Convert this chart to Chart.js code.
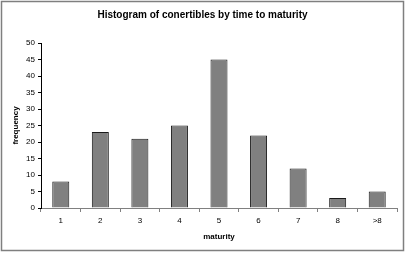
<!DOCTYPE html>
<html><head><meta charset="utf-8">
<script src="https://cdn.jsdelivr.net/npm/chart.js@4"></script>
<style>html,body{margin:0;padding:0;background:#fff}#wrap{width:409px;height:254px}</style>
</head><body><div id="wrap"><canvas id="c" width="409" height="254"></canvas></div>
<script>
const categories = ["1","2","3","4","5","6","7","8",">8"];
const frequency = [8, 23, 21, 25, 45, 22, 12, 3, 5];
const chartTitle = "Histogram of conertibles by time to maturity";
const xTitle = "maturity";
const yTitle = "frequency";

const borderPlugin = {
  id: 'outerBorder',
  beforeDraw(chart) {
    const ctx = chart.ctx;
    ctx.save();
    ctx.fillStyle = '#fff';
    ctx.fillRect(0, 0, chart.width, chart.height);
    ctx.strokeStyle = '#7f7f7f';
    ctx.lineWidth = 1.5;
    ctx.strokeRect(1.5, 1.5, 402, 249);
    ctx.restore();
  }
};

new Chart(document.getElementById('c'), {
  type: 'bar',
  data: {
    labels: categories,
    datasets: [{
      data: frequency,
      backgroundColor: '#808080',
      borderColor: '#1a1a1a',
      borderWidth: 1,
      barPercentage: 0.43,
      categoryPercentage: 1.0
    }]
  },
  options: {
    responsive: false,
    animation: false,
    devicePixelRatio: 1,
    layout: { padding: { left: 8, right: 12, top: 0, bottom: 4 } },
    plugins: {
      legend: { display: false },
      tooltip: { enabled: false },
      title: {
        display: true,
        text: chartTitle,
        color: '#000',
        font: { family: 'Liberation Sans, Arial, sans-serif', size: 10, weight: 'bold' },
        padding: { top: 9, bottom: 22 }
      }
    },
    scales: {
      x: {
        grid: { display: true, drawOnChartArea: false, drawTicks: true, tickLength: 4, offset: true, color: '#808080' },
        border: { display: true, color: '#808080', width: 1 },
        ticks: { color: '#000', font: { family: 'Liberation Sans, Arial, sans-serif', size: 8 }, padding: 4, maxRotation: 0 },
        title: { display: true, text: xTitle, color: '#000', font: { family: 'Liberation Sans, Arial, sans-serif', size: 8, weight: 'bold' }, padding: { top: 4, bottom: 8 } },
        afterFit(s) { s.height = 42; }
      },
      y: {
        min: 0, max: 50,
        grid: { display: true, drawOnChartArea: false, drawTicks: true, tickLength: 3, color: '#000' },
        border: { display: true, color: '#000', width: 1 },
        ticks: { stepSize: 5, color: '#000', font: { family: 'Liberation Sans, Arial, sans-serif', size: 8 }, padding: 3 },
        title: { display: true, text: yTitle, color: '#000', font: { family: 'Liberation Sans, Arial, sans-serif', size: 8, weight: 'bold' }, padding: { top: 3, bottom: 2 } },
        afterFit(s) { s.width = 33; }
      }
    }
  },
  plugins: [borderPlugin]
});
</script>
</body></html>
